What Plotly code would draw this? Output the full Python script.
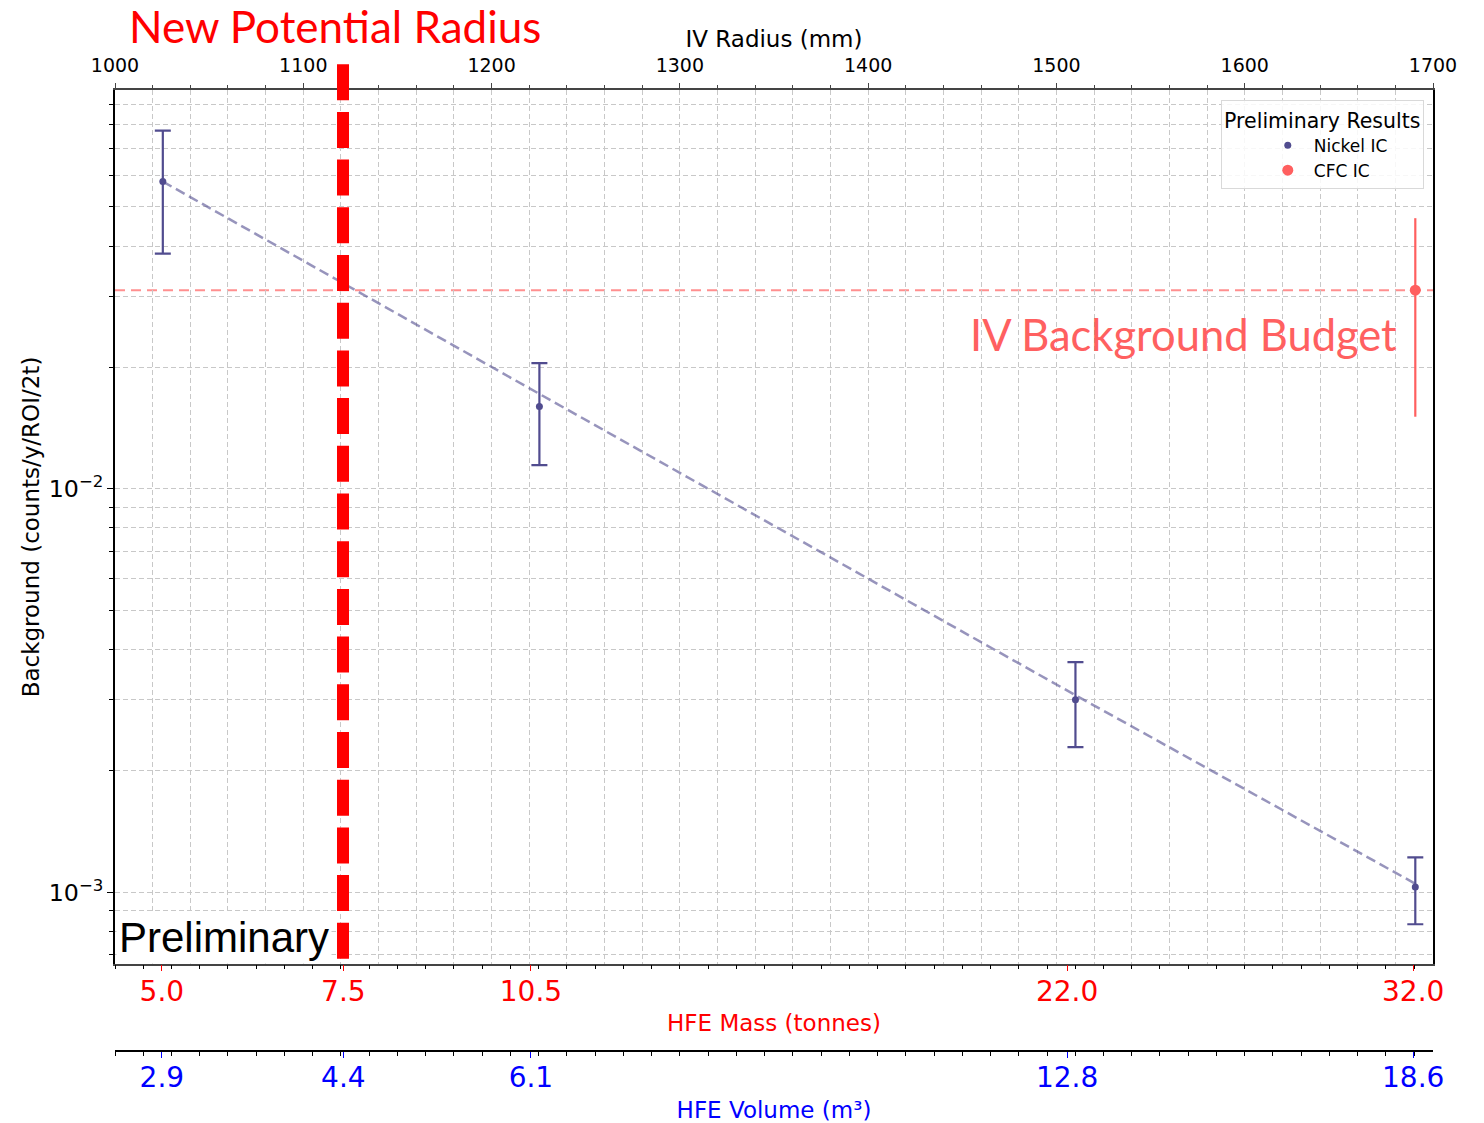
import plotly.graph_objects as go

# measured values (radius in mm, background in counts/y/ROI/2t)
radius_pts = [1025.4, 1225.4, 1510.1, 1690.6]
nickel_bg = [0.0578, 0.0160, 0.00300, 0.00103]
nickel_hi = [0.0773, 0.0205, 0.00372, 0.00122]
nickel_lo = [0.0383, 0.01146, 0.00229, 0.000833]
fit_bg = [0.0578, 0.0172, 0.00308, 0.00105]

cfc_radius = [1690.6]
cfc_bg = [0.0311]
cfc_hi = [0.0469]
cfc_lo = [0.0151]

budget = 0.0311
new_radius = 1121.1

# secondary bottom axes
tick_radius = [1024.9, 1121.3, 1220.9, 1505.7, 1689.5]
mass_labels = ["5.0", "7.5", "10.5", "22.0", "32.0"]
volume_labels = ["2.9", "4.4", "6.1", "12.8", "18.6"]

NICKEL = "#514C8F"
CFC = "#FF5F5F"
GRID = "#c8c8c8"
AX_FONT = "DejaVu Sans"

fig = go.Figure()

# fit line
fig.add_trace(go.Scatter(
    x=radius_pts, y=fit_bg, mode="lines",
    line=dict(color="rgba(81,76,143,0.6)", width=2.5, dash="10px,5px"),
    showlegend=False, hoverinfo="skip"))

fig.add_trace(go.Scatter(
    x=radius_pts, y=nickel_bg, mode="markers", name="Nickel IC",
    marker=dict(color=NICKEL, size=7),
    error_y=dict(type="data", symmetric=False,
                 array=[h - v for h, v in zip(nickel_hi, nickel_bg)],
                 arrayminus=[v - l for v, l in zip(nickel_bg, nickel_lo)],
                 color=NICKEL, thickness=2.2, width=8)))

fig.add_trace(go.Scatter(
    x=cfc_radius, y=cfc_bg, mode="markers", name="CFC IC",
    marker=dict(color=CFC, size=11),
    error_y=dict(type="data", symmetric=False,
                 array=[h - v for h, v in zip(cfc_hi, cfc_bg)],
                 arrayminus=[v - l for v, l in zip(cfc_bg, cfc_lo)],
                 color=CFC, thickness=2.2, width=0)))

# dummy traces to activate bottom axes
fig.add_trace(go.Scatter(x=[1000, 1700], y=[None, None], xaxis="x2", showlegend=False, hoverinfo="skip"))
fig.add_trace(go.Scatter(x=[1000, 1700], y=[None, None], xaxis="x3", showlegend=False, hoverinfo="skip"))

# budget line
fig.add_shape(type="line", xref="paper", x0=0, x1=1, yref="y", y0=budget, y1=budget,
              line=dict(color="rgba(255,95,95,0.7)", width=2, dash="10px,6px"), layer="between")

# new potential radius line
fig.add_shape(type="line", xref="x", x0=new_radius, x1=new_radius, yref="paper", y0=1.026, y1=0.1198,
              line=dict(color="#FF0000", width=12, dash="36px,11.7px"), layer="above")

fig.add_annotation(text="New Potential Radius", xref="paper", yref="paper",
                   x=0.167, xanchor="center", y=1.064, yanchor="middle",
                   showarrow=False, font=dict(family="Lato", size=44, color="#FF0000"))
fig.add_annotation(text="IV Background Budget", xref="x", yref="paper", x=1682, xanchor="right",
                   y=(1083 - 334) / 993, yanchor="middle", showarrow=False,
                   font=dict(family="Lato", size=43.5, color="#FF6060"))
fig.add_annotation(text="Preliminary", xref="paper", yref="paper", x=0.001, xanchor="left",
                   y=0.1198, yanchor="bottom", showarrow=False, bgcolor="white", borderpad=2,
                   font=dict(family="Liberation Sans", size=42, color="black"))

grid_dash = "5px,3px"
# page body adds an 8px offset, so the figure is 8px smaller than the window
fig.update_layout(
    width=1476, height=1115,
    margin=dict(l=107, r=51, t=82, b=40, autoexpand=False),
    plot_bgcolor="white", paper_bgcolor="white",
    font=dict(family=AX_FONT, color="black"),
    xaxis=dict(
        side="top", anchor="y", range=[1000, 1700], dtick=100, automargin=False,
        ticks="outside", ticklen=5, tickcolor="#444", tickfont=dict(size=19),
        ticklabelstandoff=4,
        title=dict(text="IV Radius (mm)", font=dict(size=23), standoff=0),
        showline=True, linecolor="#444", linewidth=1.5, mirror=True,
        showgrid=True, gridcolor=GRID, griddash=grid_dash, gridwidth=1,
        minor=dict(dtick=20, ticks="outside", ticklen=3, tickcolor="#444",
                   showgrid=True, gridcolor=GRID, griddash=grid_dash, gridwidth=1),
        zeroline=False),
    xaxis2=dict(
        overlaying="x", anchor="y", side="bottom", range=[1000, 1700], automargin=False,
        tickmode="array", tickvals=tick_radius, ticktext=mass_labels,
        ticks="outside", ticklen=6, tickcolor="red", tickfont=dict(size=28, color="red"),
        ticklabelstandoff=-4,
        title=dict(text="HFE Mass (tonnes)", font=dict(size=23, color="red"), standoff=8),
        showgrid=False, showline=False, zeroline=False,
        minor=dict(tick0=1000, dtick=15, ticks="outside", ticklen=4, tickcolor="black", showgrid=False)),
    xaxis3=dict(
        overlaying="x", anchor="free", position=0.0322, side="bottom", range=[1000, 1700],
        automargin=False,
        tickmode="array", tickvals=tick_radius, ticktext=volume_labels,
        ticks="outside", ticklen=6, tickcolor="blue", tickfont=dict(size=28, color="blue"),
        ticklabelstandoff=-4,
        title=dict(text="HFE Volume (m³)", font=dict(size=23, color="blue"), standoff=12),
        showgrid=False, showline=True, linecolor="black", linewidth=1.5, zeroline=False,
        minor=dict(tick0=1000, dtick=15, ticks="outside", ticklen=4, tickcolor="black", showgrid=False)),
    yaxis=dict(
        type="log", domain=[0.1198, 1], range=[-3.178, -1.011], dtick=1, automargin=False,
        exponentformat="power", ticks="outside", ticklen=6, tickcolor="black",
        tickfont=dict(size=19),
        title=dict(text="Background (counts/y/ROI/2t)", font=dict(size=23), standoff=3),
        showline=True, linecolor="black", linewidth=1.5, mirror=True,
        showgrid=True, gridcolor=GRID, griddash=grid_dash, gridwidth=1,
        minor=dict(dtick="D1", ticks="outside", ticklen=4, tickcolor="black",
                   showgrid=True, gridcolor=GRID, griddash=grid_dash, gridwidth=1),
        zeroline=False),
    legend=dict(
        x=0.993, xanchor="right", y=0.99, yanchor="top",
        bgcolor="rgba(255,255,255,0.85)", bordercolor="#d9d9d9", borderwidth=1,
        font=dict(size=17), indentation=40, itemwidth=42,
        title=dict(text="Preliminary Results", side="top center", font=dict(size=20.5))),
)

fig.write_html("out.html")
